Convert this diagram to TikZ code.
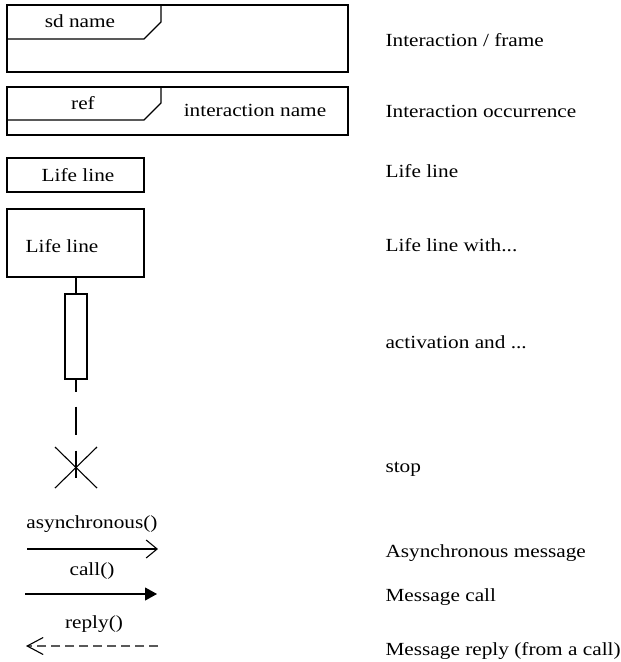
\documentclass[tikz,border=0pt]{standalone}
\usepackage{fontspec}
\setmainfont{Liberation Serif}[FakeStretch=1.15]
\usetikzlibrary{arrows.meta}

\begin{document}
\begin{tikzpicture}[x=1pt, y=-1pt, line width=1.1pt,
    font=\fontsize{18.5}{20}\selectfont,
    txt/.style={anchor=base, inner sep=0pt},
    note/.style={anchor=base west, inner sep=0pt}]
  \useasboundingbox (0,0) rectangle (621,662);

  % frame and occurrence, each with its name tab
  \draw (7,5) rectangle (348,72);
  \draw (7,39)--(144,39)--(161,22)--(161,5);
  \node[txt] (sd) at (80,27){sd name};

  \draw (7,87) rectangle (348,135);
  \draw (7,120)--(144,120)--(161,103)--(161,87);
  \node[txt] (ref) at (83,109){ref};
  \node[txt] (iname) at (255,116){interaction name};

  % life lines
  \node[draw, minimum width=137, minimum height=34] (ll) at (75.5,175){};
  \node[txt] (lltxt) at (78,181){Life line};

  \node[draw, minimum width=137, minimum height=68] (llb) at (75.5,243){};
  \node[txt] (llbtxt) at (62,252){Life line};

  \node[draw, minimum width=22, minimum height=85] (act) at (76,336.5){};
  \coordinate (stop) at (76,467);
  \coordinate (end) at (76,478);
  \draw (llb.south-|act.north)--(act.north);
  \draw[dash pattern=on 12pt off 15pt on 28pt off 16pt on 28pt off 200pt] (act.south)--(end);
  \draw (stop) ++(-21,-20) -- ++(42,41);
  \draw (stop) ++(21,-20) -- ++(-42,41);

  % messages
  \coordinate (a1) at (27,549);
  \coordinate (a2) at (158,549);
  \node[txt] (async) at (92,528){asynchronous()};
  \draw[-{Straight Barb[length=11pt,width=18pt]}] (a1)--(a2);

  \coordinate (c1) at (25,594);
  \coordinate (c2) at (157,594);
  \node[txt] (call) at (92,575){call()};
  \draw[-{Triangle[length=12pt,width=13pt]}] (c1)--(c2);

  \coordinate (r1) at (158,646);
  \coordinate (r2) at (26,646);
  \node[txt] (reply) at (94,628){reply()};
  \draw[black!65, dash pattern=on 9pt off 5pt,
        -{Straight Barb[length=16pt,width=17pt,black]}] (r1)--(r2);

  % explanations
  \foreach \y/\t [count=\i] in {46/{Interaction / frame}, 117/{Interaction occurrence},
      177/{Life line}, 251/{Life line with...}, 348/{activation and ...}, 472/{stop},
      557/{Asynchronous message}, 601/{Message call}, 655/{Message reply (from a call)}}
  {
    \node[note] (lab\i) at (385,\y){\t};
  }
\end{tikzpicture}
\end{document}
